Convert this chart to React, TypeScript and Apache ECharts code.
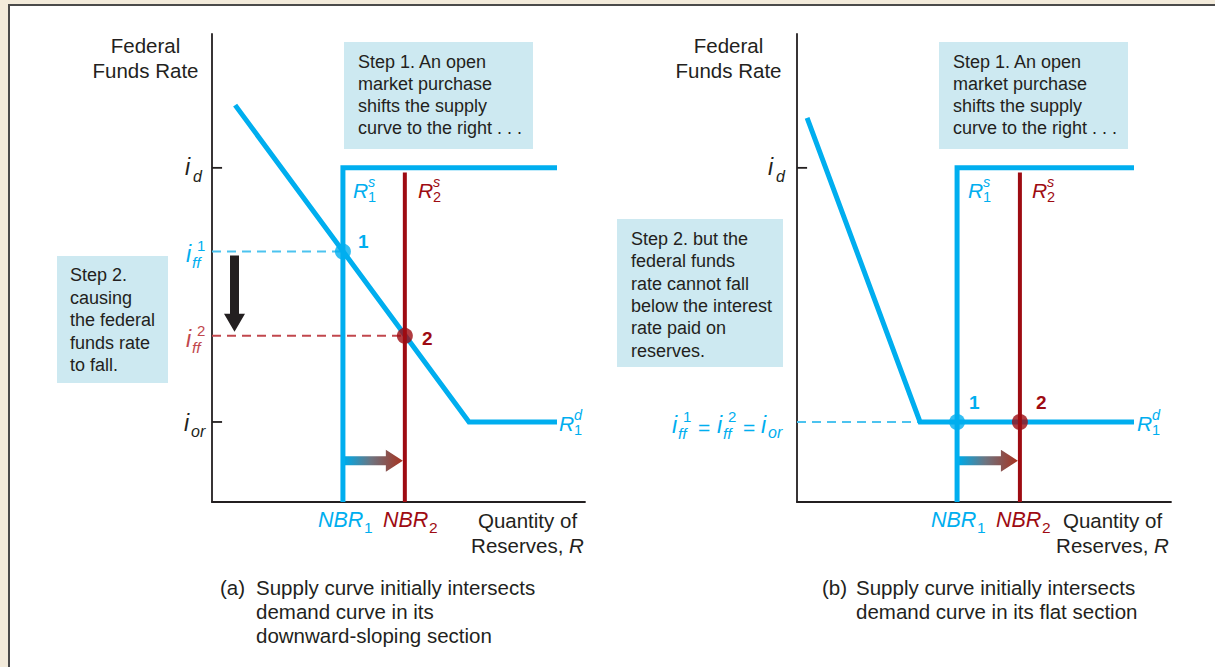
import React, { useEffect, useRef } from "react";
import * as echarts from "echarts";

// ---------- data (axis units 0..100 on both axes of each panel) ----------
const rateLevels = [71.4, 17.1]; // i_d, i_or
const ffRatesA = [53.5, 35.5]; // i_ff^1, i_ff^2 in panel (a)
const nbrA = [35.1, 51.7]; // NBR1, NBR2 panel (a)
const nbrB = [42.8, 59.6]; // NBR1, NBR2 panel (b)
const demandAx = [6.2, 68.9, 92.5];
const demandAy = [84.8, 17.1, 17.1];
const demandBx = [2.7, 32.9, 90.1];
const demandBy = [82.1, 17.1, 17.1];
const supplyEnd = [92.5, 90.1]; // right end of horizontal R^s segment (a, b)
const shiftArrowLevel = [8.8, 8.8];
const tickLen = [2.7, 2.7];

const step1Lines = ["Step 1. An open", "market purchase", "shifts the supply", "curve to the right . . ."];
const step2ALines = ["Step 2.", "causing", "the federal", "funds rate", "to fall."];
const step2BLines = ["Step 2. but the", "federal funds", "rate cannot fall", "below the interest", "rate paid on", "reserves."];
const captionA = ["Supply curve initially intersects", "demand curve in its", "downward-sloping section"];
const captionB = ["Supply curve initially intersects", "demand curve in its flat section"];

// ---------- styles ----------
const BLUE = "#00aeef";
const RED = "#9e0b12";
const DBLUE = "#4cc3ef";
const DRED = "#c1474d";
const INK = "#231f20";
const BOX = "#cde9f1";
const FONT = '"Liberation Sans", Arial, Helvetica, sans-serif';

type P = [number, number];

function T(x: number, y: number, text: string, o: any = {}) {
  return {
    type: "text",
    x,
    y,
    silent: true,
    z: 100,
    style: {
      text,
      fill: o.fill ?? INK,
      fontSize: o.size ?? 20.5,
      fontFamily: FONT,
      fontStyle: o.italic ? "italic" : "normal",
      fontWeight: o.bold ? "bold" : "normal",
      textAlign: o.align ?? "left",
      textVerticalAlign: o.va ?? "middle",
      lineHeight: o.lh,
      rich: o.rich,
    },
  };
}

function line(data: P[], color: string, width: number, xi: number, extra: any = {}) {
  return {
    type: "line",
    xAxisIndex: xi,
    yAxisIndex: xi,
    data,
    symbol: "none",
    silent: true,
    lineStyle: { color, width, type: extra.dash ? [9, 6] : "solid", cap: "butt", join: "miter" },
    z: extra.z ?? 3,
  };
}

function dot(p: P, color: string, xi: number) {
  return {
    type: "scatter",
    xAxisIndex: xi,
    yAxisIndex: xi,
    data: [p],
    symbolSize: 16,
    itemStyle: { color },
    silent: true,
    z: 6,
  };
}

function makeAxes() {
  const ax = (i: number) => ({
    type: "value",
    gridIndex: i,
    min: 0,
    max: 100,
    axisLine: { show: true, lineStyle: { color: INK, width: 1.8 } },
    axisTick: { show: false },
    axisLabel: { show: false },
    splitLine: { show: false },
  });
  return { xAxis: [ax(0), ax(1)], yAxis: [ax(0), ax(1)] };
}

function buildSeries() {
  const [iD, iOR] = rateLevels;
  const [ff1, ff2] = ffRatesA;
  const s: any[] = [];
  // ---- panel (a)
  s.push(line([[0, ff1], [nbrA[0], ff1]], DBLUE, 2, 0, { dash: true, z: 2 }));
  s.push(line([[0, ff2], [nbrA[1], ff2]], DRED, 2, 0, { dash: true, z: 2 }));
  s.push(line([[0, iD], [tickLen[0], iD]], INK, 1.8, 0));
  s.push(line([[0, iOR], [tickLen[0], iOR]], INK, 1.8, 0));
  s.push(line([[nbrA[0], 0], [nbrA[0], iD], [supplyEnd[0], iD]], BLUE, 5, 0));
  s.push(line(demandAx.map((x, i) => [x, demandAy[i]] as P), BLUE, 5, 0));
  s.push(line([[nbrA[1], 0], [nbrA[1], iD - 1]], RED, 4, 0, { z: 4 }));
  s.push(dot([nbrA[0], ff1], BLUE, 0));
  s.push(dot([nbrA[1], ff2], RED, 0));
  // ---- panel (b)
  s.push(line([[0, iOR], [demandBx[1], iOR]], DBLUE, 2, 1, { dash: true, z: 2 }));
  s.push(line([[0, iD], [tickLen[1], iD]], INK, 1.8, 1));
  s.push(line([[nbrB[0], 0], [nbrB[0], iD], [supplyEnd[1], iD]], BLUE, 5, 1));
  s.push(line(demandBx.map((x, i) => [x, demandBy[i]] as P), BLUE, 5, 1));
  s.push(line([[nbrB[1], 0], [nbrB[1], iD - 1]], RED, 4, 1, { z: 4 }));
  s.push(dot([nbrB[0], iOR], BLUE, 1));
  s.push(dot([nbrB[1], iOR], RED, 1));
  return s;
}

function shiftArrow(x1: number, x2: number, y: number) {
  const h = 17;
  return {
    type: "polygon",
    z: 5,
    silent: true,
    shape: {
      points: [
        [x1, y - 4.5],
        [x2 - h, y - 4.5],
        [x2 - h, y - 11],
        [x2, y],
        [x2 - h, y + 11],
        [x2 - h, y + 4.5],
        [x1, y + 4.5],
      ],
    },
    style: {
      fill: new echarts.graphic.LinearGradient(0, 0, 1, 0, [
        { offset: 0, color: "#00a9e6" },
        { offset: 0.45, color: "#6d7480" },
        { offset: 1, color: "#a8321f" },
      ]),
    },
  };
}

function downArrow(x: number, y1: number, y2: number) {
  const h = 18;
  return {
    type: "polygon",
    z: 5,
    silent: true,
    shape: {
      points: [
        [x - 4.5, y1],
        [x + 4.5, y1],
        [x + 4.5, y2 - h],
        [x + 10.5, y2 - h],
        [x, y2],
        [x - 10.5, y2 - h],
        [x - 4.5, y2 - h],
      ],
    },
    style: { fill: INK },
  };
}

function box(x: number, y: number, w: number, h: number) {
  return { type: "rect", z: 1, silent: true, shape: { x, y, width: w, height: h }, style: { fill: BOX } };
}

// "i" with stacked super/subscript
function iLabel(g: any[], x: number, y: number, sup: string, sub: string, fill: string) {
  g.push(T(x, y, "i", { size: 23, italic: true, fill }));
  if (sup) g.push(T(x + 11, y - 9, sup, { size: 15, fill }));
  g.push(T(x + 6, y + 8, sub, { size: 15.5, italic: true, fill }));
}

function rLabel(g: any[], x: number, y: number, sup: string, sub: string, fill: string) {
  g.push(T(x, y, "R", { size: 21, italic: true, fill }));
  g.push(T(x + 15, y - 8.5, sup, { size: 14.5, italic: true, fill }));
  g.push(T(x + 15, y + 7, sub, { size: 14.5, fill }));
}

function nbrLabel(g: any[], x: number, sub: string, fill: string) {
  g.push(T(x, 520, "NBR", { size: 21.5, italic: true, fill }));
  g.push(T(x + 46, 527, sub, { size: 15.5, fill }));
}

function staticGraphics() {
  const g: any[] = [];
  // white panel with border
  g.push({
    type: "rect",
    z: -100,
    silent: true,
    shape: { x: 9, y: 5, width: 1230, height: 700 },
    style: { fill: "#ffffff", stroke: "#4a4a4a", lineWidth: 2 },
  });

  const quantity = (cx: number) =>
    T(cx, 508, "Quantity of\nReserves, {i|R}", {
      align: "center",
      va: "top",
      lh: 25,
      rich: { i: { fontStyle: "italic", fontSize: 20.5, fontFamily: FONT, fill: INK } },
    });

  // ---- panel (a)
  g.push(T(145.5, 33, "Federal\nFunds Rate", { align: "center", va: "top", lh: 25 }));
  g.push(box(344, 42, 189, 107));
  g.push(T(358, 51, step1Lines.join("\n"), { size: 18, va: "top", lh: 22 }));
  g.push(box(57, 256, 111, 127));
  g.push(T(70, 264, step2ALines.join("\n"), { size: 18, va: "top", lh: 22.5 }));

  // i_d
  g.push(T(185, 167, "i", { size: 23, italic: true }));
  g.push(T(193, 176, "d", { size: 16, italic: true }));
  iLabel(g, 186, 254, "1", "ff", BLUE);
  iLabel(g, 186, 339, "2", "ff", DRED);
  // i_or
  g.push(T(184, 423, "i", { size: 23, italic: true }));
  g.push(T(191, 431, "or", { size: 16, italic: true }));
  rLabel(g, 353, 190, "s", "1", BLUE);
  rLabel(g, 418, 190, "s", "2", RED);
  g.push(T(358, 241, "1", { size: 19, bold: true, fill: BLUE }));
  g.push(T(422, 338, "2", { size: 19, bold: true, fill: RED }));
  rLabel(g, 559, 423, "d", "1", BLUE);
  nbrLabel(g, 318, "1", BLUE);
  nbrLabel(g, 383, "2", RED);
  g.push(quantity(527.5));
  g.push(T(220, 575, "(a)", { va: "top", lh: 24 }));
  g.push(T(256, 575, captionA.join("\n"), { va: "top", lh: 24 }));

  // ---- panel (b)
  g.push(T(728.5, 33, "Federal\nFunds Rate", { align: "center", va: "top", lh: 25 }));
  g.push(box(939, 42, 189, 107));
  g.push(T(953, 51, step1Lines.join("\n"), { size: 18, va: "top", lh: 22 }));
  g.push(box(617, 219, 166, 148));
  g.push(T(631, 228, step2BLines.join("\n"), { size: 18, va: "top", lh: 22.3 }));

  g.push(T(768, 167, "i", { size: 23, italic: true }));
  g.push(T(776, 176, "d", { size: 16, italic: true }));
  // i_ff^1 = i_ff^2 = i_or
  iLabel(g, 672, 425, "1", "ff", BLUE);
  g.push(T(698, 427, "=", { size: 21, fill: BLUE }));
  iLabel(g, 717, 425, "2", "ff", BLUE);
  g.push(T(743, 427, "=", { size: 21, fill: BLUE }));
  g.push(T(761, 425, "i", { size: 23, italic: true, fill: BLUE }));
  g.push(T(768, 432, "or", { size: 16, italic: true, fill: BLUE }));
  rLabel(g, 968, 190, "s", "1", BLUE);
  rLabel(g, 1032, 190, "s", "2", RED);
  g.push(T(969, 402, "1", { size: 19, bold: true, fill: BLUE }));
  g.push(T(1036, 402, "2", { size: 19, bold: true, fill: RED }));
  rLabel(g, 1137, 423, "d", "1", BLUE);
  nbrLabel(g, 931, "1", BLUE);
  nbrLabel(g, 996, "2", RED);
  g.push(quantity(1112.5));
  g.push(T(822, 575, "(b)", { va: "top", lh: 24 }));
  g.push(T(856, 575, captionB.join("\n"), { va: "top", lh: 24 }));
  return g;
}

export default function App() {
  const ref = useRef<HTMLDivElement>(null);
  useEffect(() => {
    if (!ref.current) return;
    const chart = echarts.init(ref.current, undefined, { renderer: "svg" });
    const axes = makeAxes();
    chart.setOption({
      animation: false,
      backgroundColor: "#f3ebdb",
      textStyle: { fontFamily: FONT },
      grid: [
        { left: 212, top: 34, width: 373, height: 468 },
        { left: 797, top: 34, width: 374, height: 468 },
      ],
      xAxis: axes.xAxis,
      yAxis: axes.yAxis,
      series: buildSeries(),
    });
    const px = (gi: number, p: P) => chart.convertToPixel({ gridIndex: gi }, p) as number[];
    const a1 = px(0, [nbrA[0], shiftArrowLevel[0]]);
    const a2 = px(0, [nbrA[1], shiftArrowLevel[0]]);
    const b1 = px(1, [nbrB[0], shiftArrowLevel[1]]);
    const b2 = px(1, [nbrB[1], shiftArrowLevel[1]]);
    const d1 = px(0, [6.2, ffRatesA[0]]);
    const d2 = px(0, [6.2, ffRatesA[1]]);
    const graphics = staticGraphics();
    graphics.push(shiftArrow(a1[0] + 2, a2[0] - 2, a1[1]));
    graphics.push(shiftArrow(b1[0] + 2, b2[0] - 2, b1[1]));
    graphics.push(downArrow(234.5, d1[1] + 4, d2[1] - 4));
    chart.setOption({ graphic: { elements: graphics } });
    return () => chart.dispose();
  }, []);
  return (
    <div
      ref={ref}
      style={{ position: "absolute", left: 0, top: 0, width: 1215, height: 667 }}
    />
  );
}
